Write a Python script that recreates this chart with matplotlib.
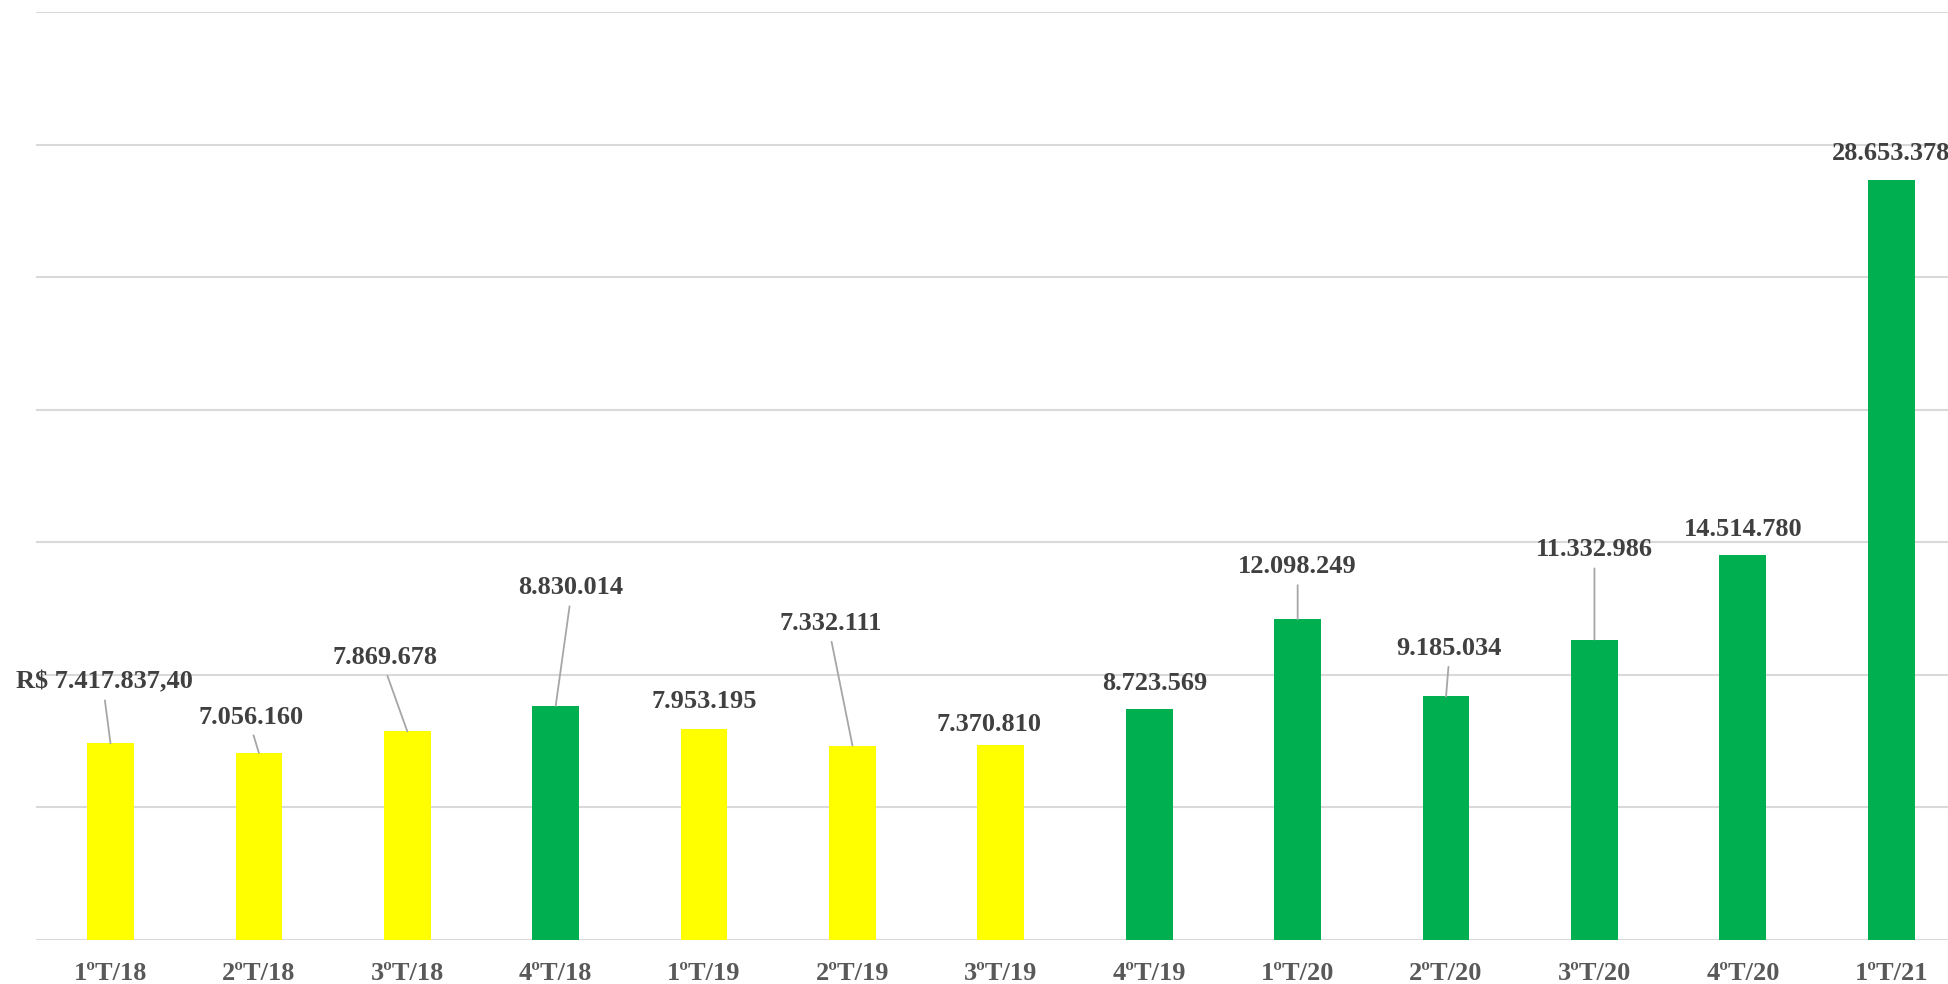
import matplotlib.pyplot as plt

# Quarterly values (R$)
quarters = ['1ºT/18', '2ºT/18', '3ºT/18', '4ºT/18', '1ºT/19', '2ºT/19', '3ºT/19',
            '4ºT/19', '1ºT/20', '2ºT/20', '3ºT/20', '4ºT/20', '1ºT/21']
values = [7417837.40, 7056160, 7869678, 8830014, 7953195, 7332111, 7370810,
          8723569, 12098249, 9185034, 11332986, 14514780, 28653378]
colors = ['#FFFF00', '#FFFF00', '#FFFF00', '#00B050', '#FFFF00', '#FFFF00', '#FFFF00',
          '#00B050', '#00B050', '#00B050', '#00B050', '#00B050', '#00B050']

# label centres (category units, millions) and whether a leader line is drawn
lab_x = [-0.044, 0.95, 1.85, 3.10, 4.00, 4.85, 5.92, 7.04, 8.00, 9.02, 10.00, 11.00, 12.00]
lab_y = [9.73, 8.41, 10.65, 13.28, 9.01, 11.94, 8.11, 9.67, 14.08, 11.00, 14.71, 15.48, 29.65]
leader = [True, True, True, True, False, True, False, False, True, True, True, False, False]

def fmt(v, i):
    if i == 0:
        s = f'{v:,.2f}'.replace(',', 'X').replace('.', ',').replace('X', '.')
        return 'R$ ' + s
    return f'{v:,.0f}'.replace(',', '.')

plt.rcParams['font.family'] = ['Liberation Serif', 'DejaVu Serif']

fig = plt.figure(figsize=(19.49, 9.84), dpi=100)
ax = fig.add_axes([0.01863, 0.0447, 0.9898, 0.9431])

x = list(range(len(values)))
ax.bar(x, values, width=0.315, color=colors, zorder=3)

ax.set_xlim(-0.5, len(values) - 0.5)
ax.set_ylim(0, 35e6)
ax.set_yticks([i * 5e6 for i in range(8)])
ax.yaxis.grid(True, color='#d9d9d9', linewidth=1.5, zorder=0)
ax.tick_params(axis='y', left=False, labelleft=False)
ax.tick_params(axis='x', bottom=False, pad=12)
ax.set_xticks(x)
ax.set_xticklabels(quarters, fontsize=19, fontweight='bold', color='#595959')
for s in ax.spines.values():
    s.set_visible(False)

for i, v in enumerate(values):
    props = None
    if leader[i]:
        props = dict(arrowstyle='-', color='#a6a6a6', lw=1.3,
                     relpos=(0.5, 0.0), shrinkA=3, shrinkB=0)
    ax.annotate(fmt(v, i), xy=(i, v), xytext=(lab_x[i], lab_y[i] * 1e6),
                ha='center', va='center', fontsize=19, fontweight='bold',
                color='#404040', arrowprops=props, zorder=4, annotation_clip=False)

fig.savefig('out.png', dpi=100)
